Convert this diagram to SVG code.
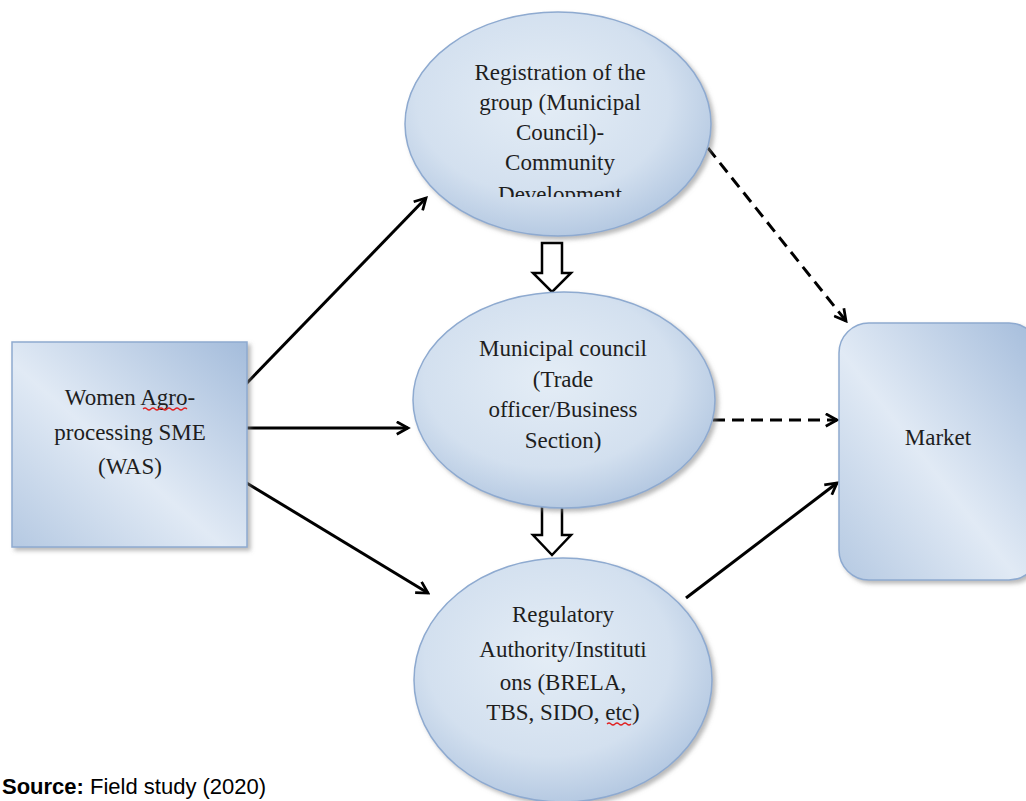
<svg xmlns="http://www.w3.org/2000/svg" width="1026" height="801" viewBox="0 0 1026 801">
<style>
.t{font-family:"Liberation Serif","Times New Roman",serif;font-size:23px;fill:#1e1e1e;text-anchor:middle}
.node{stroke:#8eaad0;stroke-width:1.5}
.ln{stroke:#000;stroke-width:3;fill:none}
.dash{stroke-dasharray:12 7}
.hollow{fill:#fff;stroke:#000;stroke-width:2.5;stroke-linejoin:miter}
.sq{fill:none;stroke:#e02020;stroke-width:1.2}
.src{font-family:"Liberation Sans",Arial,sans-serif;font-size:22px;fill:#000}
</style>
<defs>
<radialGradient id="g" cx="0.45" cy="0.4" r="0.75">
<stop offset="0" stop-color="#e4edf6"/>
<stop offset="0.55" stop-color="#d3e0ef"/>
<stop offset="1" stop-color="#9fb8d8"/>
</radialGradient>
<linearGradient id="gr" x1="0" y1="1" x2="1" y2="0">
<stop offset="0" stop-color="#b5c9e2"/>
<stop offset="0.45" stop-color="#e1eaf5"/>
<stop offset="1" stop-color="#a4bcdb"/>
</linearGradient>
<filter id="sh" x="-10%" y="-10%" width="130%" height="130%">
<feDropShadow dx="3" dy="3" stdDeviation="2" flood-color="#808080" flood-opacity="0.55"/>
</filter>
<marker id="ah" viewBox="0 0 12 12" refX="10" refY="6" markerWidth="5" markerHeight="5" markerUnits="strokeWidth" orient="auto">
<path d="M1,1 L10,6 L1,11" fill="none" stroke="#000" stroke-width="2.2"/>
</marker>
<clipPath id="c1"><rect x="420" y="40" width="280" height="157"/></clipPath>
</defs>

<g id="connectors">
<line class="ln" x1="245" y1="385" x2="426" y2="198" marker-end="url(#ah)"/>
<line class="ln" x1="245" y1="428" x2="408" y2="428" marker-end="url(#ah)"/>
<line class="ln" x1="245" y1="482" x2="428" y2="593" marker-end="url(#ah)"/>
<line class="ln dash" x1="708" y1="148" x2="846" y2="321" marker-end="url(#ah)"/>
<line class="ln dash" x1="713" y1="420" x2="837" y2="420" marker-end="url(#ah)"/>
<line class="ln" x1="686" y1="598" x2="837" y2="483" marker-end="url(#ah)"/>
<path class="hollow" d="M542,243 L562,243 L562,273 L571,273 L552,292 L533,273 L542,273 Z"/>
<path class="hollow" d="M542,506 L562,506 L562,535 L571,535 L552,555 L533,535 L542,535 Z"/>
</g>

<g id="was">
<rect class="node" x="12" y="342" width="235" height="205" fill="url(#gr)" filter="url(#sh)"/>
<text class="t" x="130" y="405">Women Agro-</text>
<text class="t" x="130" y="440">processing SME</text>
<text class="t" x="130" y="474">(WAS)</text>
<path class="sq" d="M143,409 q2,-2 4,0 t4,0 t4,0 t4,0 t4,0 t4,0 t4,0 t4,0 t4,0 t4,0 t4,0"/>
</g>

<g id="registration">
<ellipse class="node" cx="558" cy="124" rx="153" ry="112" fill="url(#g)" filter="url(#sh)"/>
<g clip-path="url(#c1)">
<text class="t" x="560" y="80">Registration of the</text>
<text class="t" x="560" y="110">group (Municipal</text>
<text class="t" x="560" y="140">Council)-</text>
<text class="t" x="560" y="170">Community</text>
<text class="t" x="560" y="202">Development</text>
</g>
</g>

<g id="municipal">
<ellipse class="node" cx="564" cy="400" rx="151" ry="108" fill="url(#g)" filter="url(#sh)"/>
<text class="t" x="563" y="356">Municipal council</text>
<text class="t" x="563" y="387">(Trade</text>
<text class="t" x="563" y="417">officer/Business</text>
<text class="t" x="563" y="448">Section)</text>
</g>

<g id="regulatory">
<ellipse class="node" cx="563" cy="680" rx="149" ry="122" fill="url(#g)" filter="url(#sh)"/>
<text class="t" x="563" y="622">Regulatory</text>
<text class="t" x="563" y="657">Authority/Instituti</text>
<text class="t" x="563" y="690">ons (BRELA,</text>
<text class="t" x="563" y="720">TBS, SIDO, etc)</text>
<path class="sq" d="M607,724 q2,-2 4,0 t4,0 t4,0 t4,0 t4,0 t4,0"/>
</g>

<g id="market">
<rect class="node" x="839" y="323" width="200" height="257" rx="30" fill="url(#gr)" filter="url(#sh)"/>
<text class="t" x="938" y="445">Market</text>
</g>

<text class="src" x="2" y="794"><tspan font-weight="bold">Source:</tspan> Field study (2020)</text>
</svg>
